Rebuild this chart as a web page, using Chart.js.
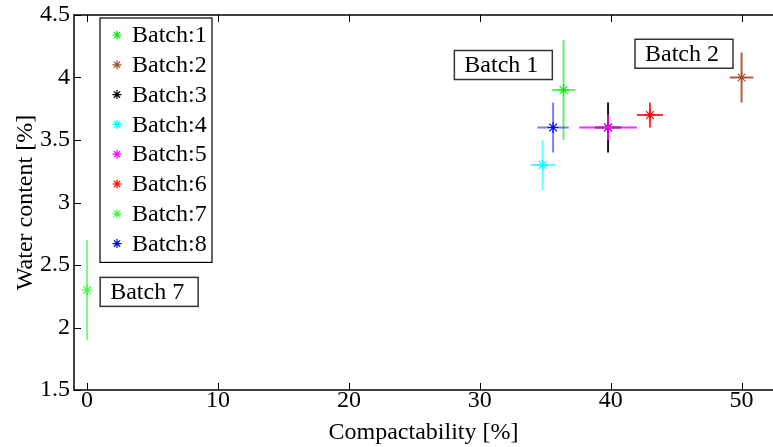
<!DOCTYPE html>
<html>
<head>
<meta charset="utf-8">
<script src="https://cdn.jsdelivr.net/npm/chart.js@4"></script>
<style>
  html, body { margin: 0; padding: 0; background: #fff; }
  #wrap { width: 773px; height: 447px; position: relative; }
</style>
</head>
<body>
<div id="wrap"><canvas id="chart"></canvas></div>
<script>
// batches, measured values and their spread
const batchNames = ["Batch:1", "Batch:2", "Batch:3", "Batch:4", "Batch:5", "Batch:6", "Batch:7", "Batch:8"];
const compactability = [36.4, 50, 39.8, 34.8, 39.8, 43.0, 0, 35.6];
const compactErr = [0.9, 0.9, 1.0, 0.95, 2.2, 1.0, 0, 1.2];
const waterContent = [3.9, 4.0, 3.6, 3.3, 3.6, 3.7, 2.3, 3.6];
const waterErr = [0.4, 0.2, 0.2, 0.2, 0.1, 0.1, 0.4, 0.2];
const batchColors = ["#00ee00", "#a0522d", "#000000", "#00ffff", "#ff00ff", "#ff0000", "#33ff33", "#0000ff"];
const barColors = ["rgba(60,230,60,0.75)", "rgba(160,82,45,0.9)", "rgba(0,0,0,0.9)", "rgba(0,255,255,0.6)",
                   "rgba(255,0,255,0.85)", "rgba(255,0,0,0.8)", "rgba(80,240,80,0.7)", "rgba(40,40,255,0.6)"];

const xTicks = [0, 10, 20, 30, 40, 50];
const yTicks = [1.5, 2, 2.5, 3, 3.5, 4, 4.5];

// text boxes, anchored in data units
const noteText = ["Batch 1", "Batch 2", "Batch 7"];
const noteX = [31.8, 45.6, 4.74];
const noteY = [4.1, 4.19, 2.285];

const FONT = "'Liberation Serif', serif";

const datasets = batchNames.map((name, i) => ({
  label: name,
  data: [{ x: compactability[i], y: waterContent[i] }],
  order: -i,
  pointStyle: "star",
  pointRadius: 5.5,
  borderWidth: 1.2,
  borderColor: batchColors[i],
  backgroundColor: batchColors[i]
}));

// error bars drawn under the markers
const errorBars = {
  id: "errorBars",
  beforeDatasetsDraw(chart) {
    const { ctx, scales: { x, y } } = chart;
    ctx.save();
    ctx.lineWidth = 2;
    batchNames.forEach((_, i) => {
      const px = x.getPixelForValue(compactability[i]);
      const py = y.getPixelForValue(waterContent[i]);
      ctx.strokeStyle = barColors[i];
      ctx.beginPath();
      ctx.moveTo(px, y.getPixelForValue(waterContent[i] - waterErr[i]));
      ctx.lineTo(px, y.getPixelForValue(waterContent[i] + waterErr[i]));
      if (compactErr[i] > 0) {
        ctx.moveTo(x.getPixelForValue(compactability[i] - compactErr[i]), py);
        ctx.lineTo(x.getPixelForValue(compactability[i] + compactErr[i]), py);
      }
      ctx.stroke();
    });
    ctx.restore();
  }
};

// axes lines with inward ticks and the x tick labels; the right side runs off the picture
const frame = {
  id: "frame",
  afterDraw(chart) {
    const { ctx, chartArea: a, scales: { x, y } } = chart;
    ctx.save();
    ctx.strokeStyle = "#000";
    ctx.lineWidth = 1;
    ctx.beginPath();
    xTicks.forEach(v => {
      const px = Math.round(x.getPixelForValue(v)) + 0.5;
      ctx.moveTo(px, a.bottom); ctx.lineTo(px, a.bottom - 7);
      ctx.moveTo(px, a.top); ctx.lineTo(px, a.top + 7);
    });
    yTicks.forEach(v => {
      const py = Math.round(y.getPixelForValue(v)) + 0.5;
      ctx.moveTo(a.left, py); ctx.lineTo(a.left + 7, py);
    });
    ctx.stroke();
    ctx.lineWidth = 1.5;
    ctx.beginPath();
    ctx.moveTo(a.right + 2, a.top); ctx.lineTo(a.left, a.top);
    ctx.lineTo(a.left, a.bottom); ctx.lineTo(a.right + 2, a.bottom);
    ctx.stroke();

    ctx.fillStyle = "#000";
    ctx.font = "24px " + FONT;
    ctx.textAlign = "center";
    ctx.textBaseline = "middle";
    xTicks.forEach(v => ctx.fillText(String(v), x.getPixelForValue(v), a.bottom + 11));
    ctx.restore();
  }
};

function star(ctx, cx, cy, r, color) {
  const d = r * 0.7;
  ctx.strokeStyle = color;
  ctx.lineWidth = 1.2;
  ctx.beginPath();
  ctx.moveTo(cx - r, cy); ctx.lineTo(cx + r, cy);
  ctx.moveTo(cx, cy - r); ctx.lineTo(cx, cy + r);
  ctx.moveTo(cx - d, cy - d); ctx.lineTo(cx + d, cy + d);
  ctx.moveTo(cx - d, cy + d); ctx.lineTo(cx + d, cy - d);
  ctx.stroke();
}

// legend box in the upper left and the text notes
const notes = {
  id: "notes",
  afterDraw(chart) {
    const { ctx, scales: { x, y } } = chart;
    ctx.save();
    ctx.font = "24px " + FONT;
    ctx.textBaseline = "middle";

    // legend
    const lx = 100, ly = 18, lw = 112, rowH = 29.8;
    const lh = rowH * batchNames.length + 6;
    ctx.fillStyle = "#fff";
    ctx.fillRect(lx, ly, lw, lh);
    ctx.strokeStyle = "#000";
    ctx.lineWidth = 1.2;
    ctx.strokeRect(lx, ly, lw, lh);
    batchNames.forEach((name, i) => {
      const cy = ly + 17 + i * rowH;
      star(ctx, lx + 17, cy, 4.5, batchColors[i]);
      ctx.fillStyle = "#000";
      ctx.textAlign = "left";
      ctx.fillText(name, lx + 32, cy + 1);
    });

    // boxed notes
    noteText.forEach((t, i) => {
      const cx = x.getPixelForValue(noteX[i]);
      const cy = y.getPixelForValue(noteY[i]);
      const w = ctx.measureText(t).width + 24;
      const h = 29;
      ctx.fillStyle = "#fff";
      ctx.fillRect(cx - w / 2, cy - h / 2, w, h);
      ctx.strokeStyle = "#333";
      ctx.lineWidth = 1.5;
      ctx.strokeRect(cx - w / 2, cy - h / 2, w, h);
      ctx.fillStyle = "#000";
      ctx.textAlign = "center";
      ctx.fillText(t, cx - 2, cy + 1);
    });
    ctx.restore();
  }
};

new Chart(document.getElementById("chart"), {
  type: "scatter",
  data: { datasets },
  plugins: [errorBars, frame, notes],
  options: {
    responsive: true,
    maintainAspectRatio: false,
    animation: false,
    layout: { autoPadding: false, padding: { top: 15, right: 0, left: 0, bottom: 0 } },
    plugins: { legend: { display: false }, tooltip: { enabled: false } },
    scales: {
      x: {
        type: "linear",
        min: -1,
        max: 52.4,
        afterBuildTicks: s => { s.ticks = xTicks.map(v => ({ value: v })); },
        afterFit: s => { s.height = 57; },
        grid: { display: false },
        border: { display: false },
        ticks: { display: false },
        title: { display: true, text: "Compactability [%]", color: "#000", padding: { top: 0, bottom: 0 }, font: { family: FONT, size: 24 } }
      },
      y: {
        type: "linear",
        min: 1.5,
        max: 4.5,
        afterBuildTicks: s => { s.ticks = yTicks.map(v => ({ value: v })); },
        afterFit: s => { s.width = 74; },
        grid: { display: false },
        border: { display: false },
        ticks: { color: "#000", padding: -4, font: { family: FONT, size: 24, lineHeight: 1 }, callback: v => String(v) },
        title: { display: true, text: "Water content [%]", color: "#000", padding: { top: 11, bottom: 0 }, font: { family: FONT, size: 24 } }
      }
    }
  }
});
</script>
</body>
</html>
